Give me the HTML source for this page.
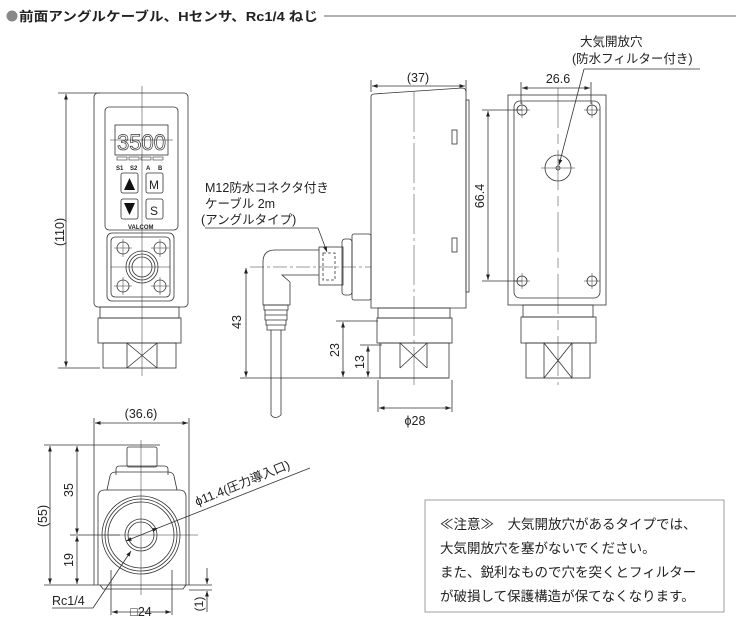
<!DOCTYPE html>
<html><head><meta charset="utf-8"><style>
body{margin:0;background:#fff}
svg{display:block}
text{font-family:"Liberation Sans","Noto Sans CJK JP",sans-serif;fill:#222}
</style></head><body>
<svg width="745" height="630" viewBox="0 0 745 630" xmlns="http://www.w3.org/2000/svg">
<defs>
<marker id="a" viewBox="0 0 10 10" refX="10" refY="5" markerWidth="7" markerHeight="7" orient="auto-start-reverse"><path d="M0,1.5 L10,5 L0,8.5z" fill="#222"/></marker>
</defs>
<g fill="none" stroke="#333" stroke-width="0.8">
<line x1="324" y1="16" x2="736" y2="16"/>

<rect x="94" y="93" width="94" height="214" rx="4"/>
<rect x="105" y="107" width="73" height="123" rx="4"/>
<rect x="115" y="125" width="53" height="30"/>
<g stroke-width="0.6"><rect x="117" y="157" width="10" height="3"/><rect x="129" y="157" width="10" height="3"/><rect x="141" y="157" width="10" height="3"/><rect x="153" y="157" width="10" height="3"/></g>
<rect x="121" y="173" width="17" height="20" rx="2"/>
<rect x="146" y="173" width="17" height="20" rx="2"/>
<rect x="121" y="199" width="17" height="20" rx="2"/>
<rect x="146" y="199" width="17" height="20" rx="2"/>
<rect x="107" y="233" width="67" height="68" rx="5"/>
<rect x="111" y="237" width="59" height="60" rx="4"/>
<circle cx="123" cy="248" r="6"/><circle cx="160" cy="248" r="6"/><circle cx="123" cy="286" r="6"/><circle cx="160" cy="286" r="6"/>
<g stroke-width="0.5"><path d="M114,248h18M123,239v18M151,248h18M160,239v18M114,286h18M123,277v18M151,286h18M160,277v18"/></g>
<circle cx="142" cy="267" r="16"/><circle cx="142" cy="267" r="13"/><circle cx="142" cy="267" r="10"/>
<line x1="111" y1="267" x2="170" y2="267" stroke-width="0.5"/>
<line x1="110" y1="140" x2="173" y2="140" stroke-width="0.5"/>
<rect x="100" y="307" width="79" height="11"/>
<rect x="98" y="318" width="83" height="25"/>
<rect x="103" y="343" width="73" height="25"/>
<path d="M127,343 V368 M157,343 V368 M127,343 L157,368 M157,343 L127,368"/>
<line x1="142" y1="86" x2="142" y2="376" stroke-width="0.5"/>
<line x1="58" y1="93" x2="100" y2="93"/><line x1="58" y1="368" x2="100" y2="368"/>
<line x1="66" y1="94" x2="66" y2="367" marker-start="url(#a)" marker-end="url(#a)"/>

<path d="M371,308 V97 Q371,94 374,94 L462,88 Q466,88 466,92 V308 Z"/>
<rect x="466" y="100" width="3" height="192"/>
<rect x="452" y="130" width="5" height="14"/><rect x="452" y="238" width="5" height="14"/>
<rect x="378" y="308" width="72" height="10"/>
<rect x="377" y="318" width="75" height="25"/>
<rect x="380" y="343" width="69" height="35"/>
<path d="M400,343 V368 M427,343 V368 M400,343 L427,368 M427,343 L400,368"/>
<line x1="414" y1="92" x2="414" y2="385" stroke-dasharray="40,4,3,4" stroke-width="0.5"/>
<rect x="352" y="234" width="19" height="66" rx="2"/>
<rect x="342" y="239" width="10" height="56" rx="3"/>
<rect x="319" y="247" width="24" height="38"/>
<rect x="323" y="253" width="12" height="27" stroke-dasharray="3,2"/>
<path d="M319,250 H275 Q263,250 263,262 V305 H290 V282 L282,275 H319"/>
<path d="M264,305 h24 v5 h-24z M265,310 h22 v5 h-22z M265,315 h22 v5 h-22z M266,320 h20 v5 h-20z M267,325 h18 v5 h-18z"/>
<path d="M271,330 V415 Q275,420 281,415 V330"/>
<line x1="250" y1="267" x2="371" y2="267" stroke-dasharray="14,3,3,3" stroke-width="0.5"/>
<line x1="371" y1="80" x2="371" y2="92"/><line x1="466" y1="80" x2="466" y2="92"/>
<line x1="372" y1="86" x2="465" y2="86" marker-start="url(#a)" marker-end="url(#a)"/>
<line x1="240" y1="378" x2="448" y2="378"/>
<line x1="246" y1="268" x2="246" y2="377" marker-start="url(#a)" marker-end="url(#a)"/>
<line x1="336" y1="321" x2="378" y2="321"/>
<line x1="343" y1="322" x2="343" y2="377" marker-start="url(#a)" marker-end="url(#a)"/>
<line x1="360" y1="345" x2="382" y2="345"/>
<line x1="368" y1="346" x2="368" y2="377" marker-start="url(#a)" marker-end="url(#a)"/>
<line x1="378" y1="380" x2="378" y2="412"/><line x1="452" y1="380" x2="452" y2="412"/>
<line x1="379" y1="408" x2="451" y2="408" marker-start="url(#a)" marker-end="url(#a)"/>
<path d="M205,228 H318"/>
<line x1="318" y1="228" x2="327" y2="252" marker-end="url(#a)"/>

<rect x="508" y="95" width="98" height="210"/>
<rect x="514" y="101" width="86" height="197" rx="6"/>
<circle cx="522" cy="110" r="5"/><circle cx="592" cy="110" r="5"/><circle cx="522" cy="281" r="5"/><circle cx="592" cy="281" r="5"/>
<g stroke-width="0.5"><path d="M514,110h16M522,102v16M584,110h16M592,102v16M514,281h16M522,273v16M584,281h16M592,273v16"/></g>
<circle cx="558" cy="168" r="13"/><circle cx="558" cy="168" r="2"/>
<line x1="541" y1="168" x2="575" y2="168" stroke-width="0.5"/>
<line x1="558" y1="88" x2="558" y2="385" stroke-dasharray="40,6,10,6" stroke-width="0.5"/>
<rect x="523" y="305" width="70" height="12"/>
<rect x="521" y="317" width="75" height="26"/>
<rect x="526" y="343" width="64" height="35"/>
<path d="M544,343 V378 M572,343 V378 M544,343 L572,378 M572,343 L544,378"/>
<line x1="521" y1="82" x2="521" y2="104"/><line x1="591" y1="82" x2="591" y2="104"/>
<line x1="522" y1="88" x2="590" y2="88" marker-start="url(#a)" marker-end="url(#a)"/>
<line x1="482" y1="110" x2="522" y2="110"/><line x1="482" y1="281" x2="522" y2="281"/>
<line x1="488" y1="111" x2="488" y2="280" marker-start="url(#a)" marker-end="url(#a)"/>
<path d="M700,69 H584"/>
<line x1="584" y1="69" x2="559" y2="165" marker-end="url(#a)"/>

<rect x="127" y="447" width="30" height="20" rx="2"/>
<path d="M116,475 V469 Q116,466 120,466 H164 Q168,466 168,469 V475"/>
<path d="M107,490 L110,476 Q111,472 116,472 H168 Q173,472 174,476 L177,490"/>
<path d="M98,585 V497 Q98,490 105,490 H179 Q186,490 186,497 V585"/>
<path d="M94,585 H189 M100,585 L103,589 H183 L186,585"/>
<circle cx="141" cy="535" r="39"/><circle cx="141" cy="535" r="36"/><circle cx="141" cy="535" r="33"/>
<circle cx="141" cy="535" r="16"/><circle cx="141" cy="535" r="13"/>
<line x1="110" y1="535" x2="198" y2="535" stroke-width="0.5"/>
<line x1="141" y1="440" x2="141" y2="595" stroke-width="0.5"/>
<line x1="94" y1="418" x2="94" y2="585"/><line x1="189" y1="418" x2="189" y2="585"/>
<line x1="95" y1="423" x2="188" y2="423" marker-start="url(#a)" marker-end="url(#a)"/>
<line x1="44" y1="445" x2="160" y2="445"/>
<line x1="44" y1="585" x2="94" y2="585"/>
<line x1="70" y1="535" x2="120" y2="535"/>
<line x1="50" y1="446" x2="50" y2="584" marker-start="url(#a)" marker-end="url(#a)"/>
<line x1="77" y1="446" x2="77" y2="534" marker-start="url(#a)" marker-end="url(#a)"/>
<line x1="77" y1="536" x2="77" y2="584" marker-start="url(#a)" marker-end="url(#a)"/>
<line x1="111" y1="570" x2="111" y2="615"/><line x1="172" y1="570" x2="172" y2="615"/>
<line x1="112" y1="612" x2="171" y2="612" marker-start="url(#a)" marker-end="url(#a)"/>
<line x1="189" y1="585" x2="212" y2="585"/><line x1="189" y1="590" x2="212" y2="590"/>
<line x1="207" y1="568" x2="207" y2="584" marker-end="url(#a)"/>
<line x1="207" y1="612" x2="207" y2="591" marker-end="url(#a)"/>
<line x1="158" y1="528" x2="126" y2="541" marker-start="url(#a)" marker-end="url(#a)"/>
<line x1="158" y1="528" x2="310" y2="468"/>
<path d="M52,608 H93"/>
<line x1="93" y1="608" x2="131" y2="551" marker-end="url(#a)"/>

<rect x="425" y="500" width="299" height="112" stroke="#888"/>
</g>

<path d="M124,190 L129.5,178 L135,190z M124,203 L129.5,215 L135,203z" fill="#111"/>

<circle cx="12" cy="16" r="5.5" fill="#888"/>
<text x="19" y="21" font-size="13" font-weight="bold" textLength="299" lengthAdjust="spacingAndGlyphs">前面アングルケーブル、Hセンサ、Rc1/4 ねじ</text>
<text x="117" y="150" font-size="22" font-family="Liberation Mono" textLength="49" lengthAdjust="spacingAndGlyphs" style="fill:none;stroke:#333;stroke-width:0.7">3500</text>
<text x="116" y="170" font-size="6" font-weight="bold">S1</text><text x="130" y="170" font-size="6" font-weight="bold">S2</text>
<text x="146" y="170" font-size="6" font-weight="bold">A</text><text x="158" y="170" font-size="6" font-weight="bold">B</text>
<text x="149" y="189" font-size="12">M</text><text x="150" y="215" font-size="12">S</text>
<text x="128" y="229" font-size="6" font-weight="bold">VALCOM</text>
<text transform="translate(64,232) rotate(-90)" font-size="12.5" text-anchor="middle">(110)</text>
<text x="205" y="192" font-size="12.5">M12防水コネクタ付き</text>
<text x="205" y="208" font-size="12.5">ケーブル 2m</text>
<text x="201" y="224" font-size="12.5">(アングルタイプ)</text>
<text x="418" y="82" font-size="12.5" text-anchor="middle">(37)</text>
<text transform="translate(241,322) rotate(-90)" font-size="12.5" text-anchor="middle">43</text>
<text transform="translate(339,350) rotate(-90)" font-size="12.5" text-anchor="middle">23</text>
<text transform="translate(364,362) rotate(-90)" font-size="12.5" text-anchor="middle">13</text>
<text x="415" y="425" font-size="12.5" text-anchor="middle">ϕ28</text>
<text x="580" y="46" font-size="12.5">大気開放穴</text>
<text x="572" y="63" font-size="12.5">(防水フィルター付き)</text>
<text x="558" y="83" font-size="12.5" text-anchor="middle">26.6</text>
<text transform="translate(484,196) rotate(-90)" font-size="12.5" text-anchor="middle">66.4</text>
<text x="141" y="418" font-size="12.5" text-anchor="middle">(36.6)</text>
<text transform="translate(47,516) rotate(-90)" font-size="12.5" text-anchor="middle">(55)</text>
<text transform="translate(73,490) rotate(-90)" font-size="12.5" text-anchor="middle">35</text>
<text transform="translate(73,560) rotate(-90)" font-size="12.5" text-anchor="middle">19</text>
<text x="52" y="605" font-size="12.5">Rc1/4</text>
<text x="141" y="616" font-size="12.5" text-anchor="middle">□24</text>
<text transform="translate(203,604) rotate(-90)" font-size="12" text-anchor="middle">(1)</text>
<text transform="translate(197,506) rotate(-22)" font-size="12.5">ϕ11.4(圧力導入口)</text>
<text x="440" y="529" font-size="13.5">≪注意≫　大気開放穴があるタイプでは、</text>
<text x="440" y="553" font-size="13.5">大気開放穴を塞がないでください。</text>
<text x="440" y="577" font-size="13.5">また、鋭利なもので穴を突くとフィルター</text>
<text x="440" y="601" font-size="13.5">が破損して保護構造が保てなくなります。</text>
</svg>
</body></html>
